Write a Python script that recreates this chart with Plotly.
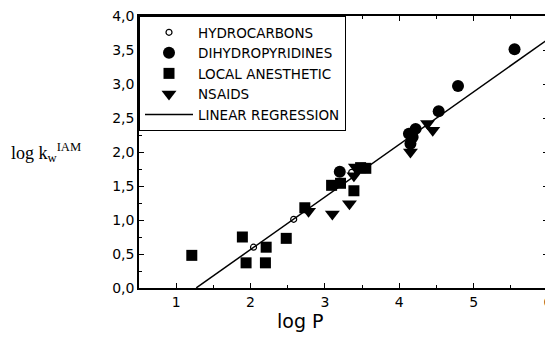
import plotly.graph_objects as go

# Data
hc_x = [2.04, 2.58, 3.36]
hc_y = [0.60, 1.01, 1.70]

dhp_x = [3.20, 4.13, 4.15, 4.18, 4.22, 4.53, 4.79, 5.55]
dhp_y = [1.71, 2.27, 2.12, 2.22, 2.34, 2.60, 2.97, 3.51]

la_x = [1.21, 1.89, 1.94, 2.21, 2.20, 2.48, 2.73, 3.09, 3.21, 3.39, 3.55, 3.48]
la_y = [0.48, 0.75, 0.37, 0.60, 0.37, 0.73, 1.18, 1.51, 1.54, 1.43, 1.76, 1.77]

ns_x = [2.78, 3.10, 3.33, 3.39, 3.41, 4.15, 4.38, 4.45]
ns_y = [1.13, 1.09, 1.24, 1.65, 1.78, 2.00, 2.42, 2.32]

reg_slope = 0.773
reg_intercept = -0.98
reg_x = [1.27, 6.0]
reg_y = [reg_slope * x + reg_intercept for x in reg_x]

x_ticks = [1, 2, 3, 4, 5, 6]

fig = go.Figure()
fig.add_trace(go.Scatter(x=hc_x, y=hc_y, mode="markers", name="HYDROCARBONS",
                         marker=dict(symbol="circle-open", size=6, color="black", line=dict(width=1.2))))
fig.add_trace(go.Scatter(x=dhp_x, y=dhp_y, mode="markers", name="DIHYDROPYRIDINES",
                         marker=dict(symbol="circle", size=12, color="black")))
fig.add_trace(go.Scatter(x=la_x, y=la_y, mode="markers", name="LOCAL ANESTHETIC",
                         marker=dict(symbol="square", size=11, color="black")))
fig.add_trace(go.Scatter(x=ns_x, y=ns_y, mode="markers", name="NSAIDS",
                         marker=dict(symbol="triangle-down", size=13, color="black")))
fig.add_trace(go.Scatter(x=reg_x, y=reg_y, mode="lines", name="LINEAR REGRESSION",
                         line=dict(color="black", width=1.5)))

axis_common = dict(showline=True, linecolor="black", linewidth=1.5, mirror="ticks",
                   ticks="inside", ticklen=5, tickcolor="black", tickwidth=1.2,
                   showgrid=False, zeroline=False, ticklabeloverflow="allow",
                   tickfont=dict(family="DejaVu Sans", size=14, color="black"))

fig.update_xaxes(range=[0.5, 6.0], tickvals=x_ticks, ticklabelstandoff=0,
                 minor=dict(dtick=0.5, tick0=0.5, ticks="inside", ticklen=3, tickcolor="black"),
                 **axis_common)
fig.update_yaxes(range=[0, 4.0], dtick=0.5, tick0=0, tickformat=".1f",
                 minor=dict(dtick=0.25, tick0=0, ticks="inside", ticklen=3, tickcolor="black"),
                 **axis_common)

# page body has an 8px default margin: work in page pixels, shift by 8
OFF = 8
W, H = 553 - OFF, 341 - OFF
L, R, T, B = 139 - OFF, 548 - OFF, 16 - OFF, 288 - OFF
fig.add_annotation(text="log P", xref="x domain", yref="y domain",
                   x=(300 - OFF - L) / (R - L), y=-(321 - OFF - B) / (B - T), showarrow=False,
                   xanchor="center", yanchor="middle",
                   font=dict(family="DejaVu Sans", size=19, color="black"))
fig.add_annotation(text="log k<sub>w</sub><sup>IAM</sup>", xref="x domain", yref="y domain",
                   x=-(L - (46 - OFF)) / (R - L), y=(B - (152 - OFF)) / (B - T), showarrow=False,
                   xanchor="center", yanchor="middle",
                   font=dict(family="Liberation Serif, Times New Roman", size=18, color="black"))

fig.update_layout(
    width=W, height=H,
    margin=dict(l=L, r=W - R, t=T, b=H - B, autoexpand=False),
    plot_bgcolor="white", paper_bgcolor="white",
    separators=",.",
    legend=dict(x=0, y=1, xanchor="left", yanchor="top", bordercolor="black", borderwidth=1,
                bgcolor="white", font=dict(family="DejaVu Sans", size=13.5, color="black"),
                tracegroupgap=0, itemwidth=48),
    showlegend=True,
)

fig.write_html("out.html")
